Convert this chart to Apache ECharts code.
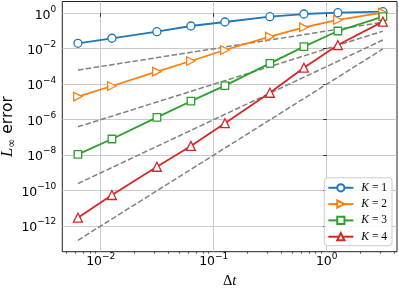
<!DOCTYPE html>
<html><head><meta charset="utf-8">
<script src="https://cdn.jsdelivr.net/npm/echarts@6/dist/echarts.min.js"></script>
<style>html,body{margin:0;padding:0;background:#fff}#c{width:399px;height:289px}</style>
</head><body><div id="c"></div>
<script>
// time steps (dt = 2*pi/N, N = 1000 ... 2)
const dt = [0.006283, 0.012566, 0.031416, 0.062832, 0.12566, 0.31416, 0.62832, 1.2566, 3.1416];
// L-infinity errors
const errK1 = [0.0203, 0.039, 0.0917, 0.192, 0.323, 0.645, 0.91, 1.08, 1.23];
const errK2 = [2.0e-5, 7.9e-5, 5.1e-4, 2.04e-3, 8.5e-3, 0.048, 0.162, 0.42, 1.08];
const errK3 = [1.1e-8, 8.1e-8, 1.35e-6, 1.1e-5, 8.3e-5, 1.5e-3, 0.0131, 0.1, 0.645];
const errK4 = [2.95e-12, 5.6e-11, 2.2e-9, 3.3e-8, 6.3e-7, 3.3e-5, 8.5e-4, 0.0163, 0.34];
// dashed reference slopes (end points)
const refDt = [0.006283, 3.1416];
const ref1 = [6.28e-4, 0.314];
const ref2 = [3.95e-7, 0.0987];
const ref3 = [2.48e-10, 0.031];
const ref4 = [1.56e-13, 0.00974];
const seriesNames = ['K=1', 'K=2', 'K=3', 'K=4'];
const xTickExp = [-2, -1, 0];
const yTickExp = [0, -2, -4, -6, -8, -10, -12];
const xRange = [0.00457, 4.19];
const yRange = [3.55e-14, 4.63];

const L = Math.log10;
const colors = ['#1f77b4', '#ff7f0e', '#2ca02c', '#d62728'];
const symbols = ['circle', 'path://M0,0 L10,5 L0,10 Z', 'rect', 'triangle'];
const sizes = [8, 8.5, 7.5, 9];
const errs = [errK1, errK2, errK3, errK4];
const refs = [ref1, ref2, ref3, ref4];

const minorX = [];
for (let n = -3; n <= 0; n++) for (let k = 2; k <= 9; k++) {
  const v = L(k * Math.pow(10, n));
  if (v > L(xRange[0]) && v < L(xRange[1])) minorX.push(v);
}
const expFmt = v => {
  const e = Math.round(v);
  return '{n|10}{s|' + (e < 0 ? '\u2212' + (-e) : e) + '}';
};
const labelRich = {
  n: {fontSize: 12.5, fontFamily: 'DejaVu Sans', color: '#000', lineHeight: 17, verticalAlign: 'bottom'},
  s: {fontSize: 9, fontFamily: 'DejaVu Sans', color: '#000', verticalAlign: 'top'}
};
const series = [];
refs.forEach(r => series.push({
  type: 'line', data: refDt.map((d, i) => [L(d), L(r[i])]), symbol: 'none', silent: true,
  lineStyle: {color: '#808080', width: 1.5, type: [5.5, 2.4]}, z: 1
}));
errs.forEach((e, j) => series.push({
  name: seriesNames[j], type: 'line', data: dt.map((d, i) => [L(d), L(e[i])]),
  symbol: symbols[j], symbolSize: sizes[j], z: 3,
  lineStyle: {color: colors[j], width: 1.8},
  itemStyle: {color: '#fff', borderColor: colors[j], borderWidth: 1.3}
}));

const chart = echarts.init(document.getElementById('c'), null, {renderer: 'canvas'});
chart.setOption({
  animation: false,
  grid: {left: 62.3, right: 2, top: 1.5, bottom: 37.3, show: true, borderColor: '#222', borderWidth: 1, outerBoundsMode: 'none'},
  xAxis: [{
    type: 'value', min: L(xRange[0]), max: L(xRange[1]),
    axisLine: {show: false},
    axisTick: {show: true, inside: false, length: 3.5, lineStyle: {color: '#000', width: 0.8}, customValues: xTickExp},
    axisLabel: {customValues: xTickExp, formatter: expFmt, rich: labelRich, margin: 0},
    splitLine: {show: true, lineStyle: {color: '#c4c4c4', width: 0.9}},
    name: '{d|\u0394}{t|t}', nameLocation: 'middle', nameGap: 22, nameMoveOverlap: false,
    nameTextStyle: {rich: {d: {fontSize: 14.5, fontFamily: 'Liberation Serif', color: '#000'}, t: {fontSize: 14.5, fontFamily: 'Liberation Serif', fontStyle: 'italic', color: '#000'}}}
  }, {
    type: 'value', min: L(xRange[0]), max: L(xRange[1]), position: 'bottom',
    axisLine: {show: false},
    axisTick: {show: true, length: 2, lineStyle: {color: '#000', width: 0.6}, customValues: minorX},
    axisLabel: {show: false}, splitLine: {show: false}
  }],
  yAxis: [{
    type: 'value', min: L(yRange[0]), max: L(yRange[1]),
    axisLine: {show: false},
    axisTick: {show: true, length: 3.5, lineStyle: {color: '#000', width: 0.8}, customValues: yTickExp},
    axisLabel: {customValues: yTickExp, formatter: expFmt, rich: labelRich, margin: 6},
    splitLine: {show: true, lineStyle: {color: '#c4c4c4', width: 0.9}},
    name: '{l|L}{i|\u221E}{e| error}', nameLocation: 'middle', nameRotate: 90, nameGap: 45, nameMoveOverlap: false,
    nameTextStyle: {padding: [0, 0, 0, 0], rich: {
      l: {fontSize: 16.5, fontFamily: 'Liberation Serif', fontStyle: 'italic', color: '#000', lineHeight: 19, verticalAlign: 'middle'},
      i: {fontSize: 11, fontFamily: 'DejaVu Sans', color: '#000', verticalAlign: 'bottom'},
      e: {fontSize: 15.5, fontFamily: 'DejaVu Sans', color: '#000', verticalAlign: 'middle'}
    }}
  }],
  legend: {
    data: seriesNames, orient: 'vertical', right: 7, bottom: 43.3,
    itemWidth: 25, itemHeight: 9, itemGap: 4.3, padding: [4, 5, 3, 3],
    backgroundColor: 'rgba(255,255,255,0.85)', borderColor: '#cccccc', borderWidth: 1, borderRadius: 3,
    formatter: name => '{k|K}{r| = ' + name.split('=')[1] + '}',
    textStyle: {padding: [0, 0, 0, 3], rich: {
      k: {fontSize: 11.5, fontFamily: 'Liberation Serif', fontStyle: 'italic', color: '#000', lineHeight: 12},
      r: {fontSize: 11.5, fontFamily: 'Liberation Serif', color: '#000', lineHeight: 12}
    }}
  },
  series: series
});
</script></body></html>
